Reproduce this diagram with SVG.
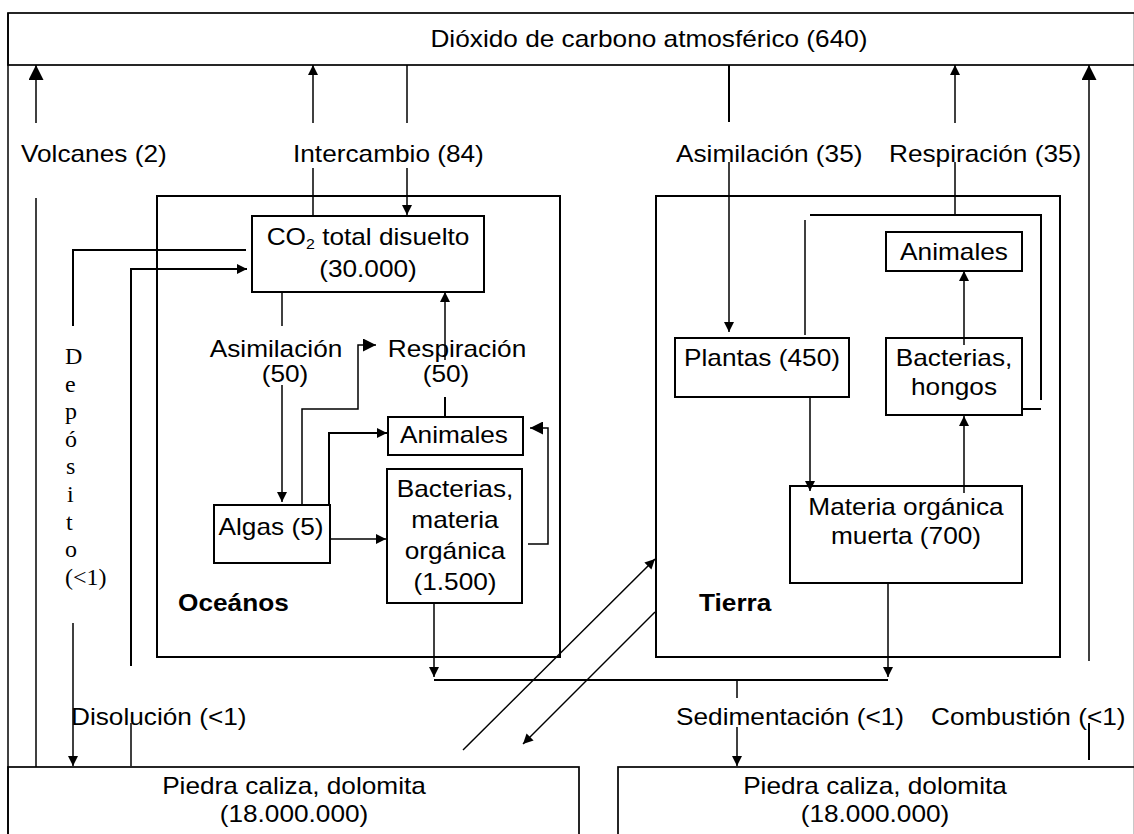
<svg xmlns="http://www.w3.org/2000/svg" width="1134" height="834" viewBox="0 0 1134 834">
  <defs>
    <style>
      .box { fill: none; stroke: #000; stroke-width: 2; }
      .ln { fill: none; stroke: #000; stroke-width: 1.5; }
      .lw { fill: none; stroke: #000; stroke-width: 2; }
      .t { font-family: "Liberation Sans", Arial, sans-serif; font-size: 23px; fill: #000; }
      .c { text-anchor: middle; }
      .bold { font-weight: bold; }
      .serif { font-family: "Liberation Serif", "Times New Roman", serif; font-size: 24px; fill: #000; }
    </style>
    <marker id="ah" viewBox="0 0 10 10" refX="10" refY="5" markerWidth="10" markerHeight="10" markerUnits="userSpaceOnUse" orient="auto">
      <path d="M0,0 L10,5 L0,10 z" fill="#000"/>
    </marker>
    <marker id="ahm" viewBox="0 0 10 10" refX="10" refY="5" markerWidth="13" markerHeight="13" markerUnits="userSpaceOnUse" orient="auto">
      <path d="M0,0 L10,5 L0,10 z" fill="#000"/>
    </marker>
    <marker id="ahl" viewBox="0 0 10 10" refX="10" refY="5" markerWidth="15" markerHeight="15" markerUnits="userSpaceOnUse" orient="auto">
      <path d="M0,0 L10,5 L0,10 z" fill="#000"/>
    </marker>
  </defs>

  <rect width="1134" height="834" fill="#fff"/>

  <!-- frame lines: left border and faint right border -->
  <line class="ln" x1="8" y1="13" x2="8" y2="834"/>
  <line x1="1133.5" y1="13" x2="1133.5" y2="834" stroke="#c8c8c8" stroke-width="1"/>

  <!-- atmosphere -->
  <g id="atmosfera">
    <rect class="box" x="8" y="13" width="1130" height="52" style="stroke-width:1.7"/>
    <text class="t c" transform="translate(649 47) scale(1.14 1)">Dióxido de carbono atmosférico (640)</text>
  </g>

  <!-- oceans container -->
  <g id="oceanos">
    <rect class="box" x="157" y="196" width="403" height="461"/>
    <text class="t bold" transform="translate(178 611) scale(1.14 1)">Oceános</text>
  </g>

  <g id="co2-disuelto">
    <rect class="box" x="252" y="216" width="232" height="76"/>
    <text class="t c" transform="translate(368 245) scale(1.14 1)">CO<tspan font-size="14" dy="4">2</tspan><tspan dy="-4"> total disuelto</tspan></text>
    <text class="t c" transform="translate(368 277) scale(1.14 1)">(30.000)</text>
  </g>

  <g id="algas">
    <rect class="box" x="214" y="505" width="116" height="58"/>
    <text class="t c" transform="translate(271 535) scale(1.14 1)">Algas (5)</text>
  </g>

  <g id="animales-oceano">
    <rect class="box" x="388" y="417" width="135" height="38"/>
    <text class="t c" transform="translate(454 443) scale(1.14 1)">Animales</text>
  </g>

  <g id="bacterias-oceano">
    <rect class="box" x="387" y="469" width="135" height="134"/>
    <text class="t c" transform="translate(455 497) scale(1.14 1)">Bacterias,</text>
    <text class="t c" transform="translate(455 528) scale(1.14 1)">materia</text>
    <text class="t c" transform="translate(455 559) scale(1.14 1)">orgánica</text>
    <text class="t c" transform="translate(455 590) scale(1.14 1)">(1.500)</text>
  </g>

  <!-- land container -->
  <g id="tierra">
    <rect class="box" x="656" y="196" width="404" height="461"/>
    <text class="t bold" transform="translate(699 611) scale(1.14 1)">Tierra</text>
  </g>

  <g id="plantas">
    <rect class="box" x="675" y="338" width="174" height="59"/>
    <text class="t c" transform="translate(762 366) scale(1.14 1)">Plantas (450)</text>
  </g>

  <g id="animales-tierra">
    <rect class="box" x="886" y="232" width="136" height="39"/>
    <text class="t c" transform="translate(954 260) scale(1.14 1)">Animales</text>
  </g>

  <g id="bacterias-hongos">
    <rect class="box" x="886" y="338" width="136" height="77"/>
    <text class="t c" transform="translate(954 366) scale(1.14 1)">Bacterias,</text>
    <text class="t c" transform="translate(954 395) scale(1.14 1)">hongos</text>
  </g>

  <g id="materia-muerta">
    <rect class="box" x="790" y="486" width="232" height="97"/>
    <text class="t c" transform="translate(906 515) scale(1.14 1)">Materia orgánica</text>
    <text class="t c" transform="translate(906 544) scale(1.14 1)">muerta (700)</text>
  </g>

  <!-- sediment stores -->
  <g id="caliza-oceano">
    <rect class="box" x="8" y="767" width="571" height="80" style="stroke-width:1.7"/>
    <text class="t c" transform="translate(294 794) scale(1.14 1)">Piedra caliza, dolomita</text>
    <text class="t c" transform="translate(294 822) scale(1.14 1)">(18.000.000)</text>
  </g>

  <g id="caliza-tierra">
    <rect class="box" x="618" y="767" width="520" height="80" style="stroke-width:1.7"/>
    <text class="t c" transform="translate(875 794) scale(1.14 1)">Piedra caliza, dolomita</text>
    <text class="t c" transform="translate(875 822) scale(1.14 1)">(18.000.000)</text>
  </g>

  <!-- flow labels -->
  <g id="flujos">
    <text class="t" transform="translate(21 162) scale(1.14 1)">Volcanes (2)</text>
    <text class="t" transform="translate(293 162) scale(1.14 1)">Intercambio (84)</text>
    <text class="t" transform="translate(676 162) scale(1.14 1)">Asimilación (35)</text>
    <text class="t" transform="translate(889 162) scale(1.14 1)">Respiración (35)</text>
    <text class="t c" transform="translate(276 357) scale(1.14 1)">Asimilación</text>
    <text class="t c" transform="translate(285 382) scale(1.14 1)">(50)</text>
    <text class="t c" transform="translate(457 357) scale(1.14 1)">Respiración</text>
    <text class="t c" transform="translate(446 382) scale(1.14 1)">(50)</text>
    <text class="t" transform="translate(71 725) scale(1.14 1)">Disolución (&lt;1)</text>
    <text class="t" transform="translate(676 725) scale(1.14 1)">Sedimentación (&lt;1)</text>
    <text class="t" transform="translate(931 725) scale(1.14 1)">Combustión (&lt;1)</text>
    <text class="serif">
      <tspan x="65" y="364">D</tspan>
      <tspan x="65" y="391.6">e</tspan>
      <tspan x="65" y="419.2">p</tspan>
      <tspan x="65" y="446.8">ó</tspan>
      <tspan x="66" y="474.4">s</tspan>
      <tspan x="67" y="502">i</tspan>
      <tspan x="66" y="529.6">t</tspan>
      <tspan x="65" y="557.2">o</tspan>
      <tspan x="65" y="584.8">(&lt;1)</tspan>
    </text>
  </g>

  <!-- connectors -->
  <g id="conectores">
    <!-- to and from the atmosphere -->
    <line class="ln" x1="36" y1="123" x2="36" y2="65" marker-end="url(#ahl)"/>
    <line class="ln" x1="36" y1="198" x2="36" y2="767"/>
    <line class="ln" x1="313" y1="123" x2="313" y2="65" marker-end="url(#ah)"/>
    <line class="ln" x1="313" y1="168" x2="313" y2="216"/>
    <line class="ln" x1="407" y1="65" x2="407" y2="123"/>
    <line class="ln" x1="407" y1="168" x2="407" y2="215" marker-end="url(#ah)"/>
    <line class="lw" x1="729" y1="65" x2="729" y2="122"/>
    <line class="ln" x1="729" y1="162" x2="729" y2="332" marker-end="url(#ah)"/>
    <line class="ln" x1="955" y1="123" x2="955" y2="65" marker-end="url(#ah)"/>
    <line class="ln" x1="955" y1="162" x2="955" y2="215"/>
    <line class="ln" x1="1089" y1="661" x2="1089" y2="65" marker-end="url(#ahl)"/>
    <line class="lw" x1="1089" y1="723" x2="1089" y2="760"/>

    <!-- deposition and dissolution -->
    <polyline class="lw" points="246,250 73,250 73,326"/>
    <line class="ln" x1="73" y1="623" x2="73" y2="766" marker-end="url(#ah)"/>
    <polyline class="lw" points="131,666 131,269 247,269" marker-end="url(#ah)"/>
    <line class="ln" x1="131" y1="723" x2="131" y2="766"/>

    <!-- ocean cycle -->
    <line class="ln" x1="282" y1="292" x2="282" y2="326"/>
    <line class="ln" x1="282" y1="385" x2="282" y2="502" marker-end="url(#ah)"/>
    <line class="ln" x1="445" y1="360" x2="445" y2="292" marker-end="url(#ah)"/>
    <line class="lw" x1="445" y1="397" x2="445" y2="417"/>
    <polyline class="ln" points="302,505 302,409 358,409 358,345 376,345" marker-end="url(#ahm)"/>
    <polyline class="lw" points="329,505 329,433 387,433" marker-end="url(#ah)"/>
    <line class="ln" x1="330" y1="539" x2="386" y2="539" marker-end="url(#ah)"/>
    <polyline class="ln" points="528,544 548,544 548,428 530,428" marker-end="url(#ahm)"/>
    <line class="ln" x1="434" y1="603" x2="434" y2="677" marker-end="url(#ah)"/>

    <!-- land cycle -->
    <line class="ln" x1="805" y1="335" x2="805" y2="220"/>
    <polyline class="lw" points="810,215 1041,215 1041,400"/>
    <line class="lw" x1="1022" y1="409" x2="1041" y2="409"/>
    <line class="ln" x1="964" y1="345" x2="964" y2="271" marker-end="url(#ah)"/>
    <line class="ln" x1="964" y1="493" x2="964" y2="416" marker-end="url(#ah)"/>
    <line class="ln" x1="810" y1="397" x2="810" y2="491" marker-end="url(#ah)"/>

    <!-- sedimentation -->
    <line class="ln" x1="888" y1="583" x2="888" y2="677" marker-end="url(#ah)"/>
    <line class="lw" x1="434" y1="680" x2="888" y2="680"/>
    <line class="ln" x1="737" y1="680" x2="737" y2="698"/>
    <line class="ln" x1="737" y1="727" x2="737" y2="766" marker-end="url(#ah)"/>

    <!-- exchange between land and rock -->
    <line class="ln" x1="463" y1="750" x2="655" y2="559" marker-end="url(#ah)"/>
    <line class="ln" x1="655" y1="612" x2="523" y2="744" marker-end="url(#ah)"/>
  </g>
</svg>
